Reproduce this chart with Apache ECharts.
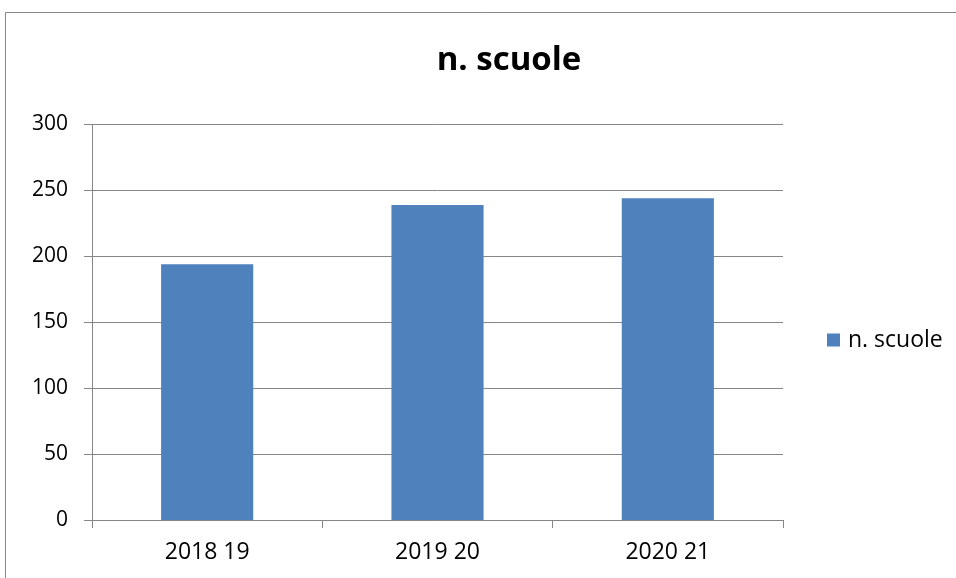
<!DOCTYPE html>
<html>
<head>
<meta charset="utf-8">
<script src="https://cdn.jsdelivr.net/npm/echarts@6/dist/echarts.min.js"></script>
<style>html,body{margin:0;padding:0;background:#fff;}#c{width:956px;height:578px;}</style>
</head>
<body>
<div id="c"></div>
<script>
var categories = ['2018 19', '2019 20', '2020 21'];
var values = [194, 239, 244];
var seriesName = 'n. scuole';
var titleText = 'n. scuole';

var font = 'Open Sans';
var chart = echarts.init(document.getElementById('c'));
chart.setOption({
  backgroundColor: '#fff',
  animation: false,
  graphic: [{
    type: 'rect', silent: true,
    shape: { x: 5.5, y: 12.5, width: 2000, height: 2000 },
    style: { fill: 'none', stroke: '#878787', lineWidth: 1 }
  }],
  title: {
    text: titleText, left: 509, top: 44, textAlign: 'center', padding: 0,
    textStyle: { fontFamily: font, fontWeight: 'bold', fontSize: 33, color: '#000' }
  },
  legend: {
    data: [seriesName], left: 827, top: 326, orient: 'vertical', padding: 0,
    itemWidth: 13, itemHeight: 13, icon: 'rect',
    textStyle: { fontFamily: font, fontSize: 23, color: '#000', lineHeight: 28, padding: [0, 0, 0, 3] }
  },
  grid: { left: 92, right: 173, top: 124.5, bottom: 58 },
  xAxis: {
    type: 'category', data: categories,
    axisLine: { lineStyle: { color: '#868686', width: 1 } },
    axisTick: { show: true, length: 8, lineStyle: { color: '#868686' } },
    axisLabel: { color: '#000', fontFamily: font, fontSize: 23, margin: 21 }
  },
  yAxis: {
    type: 'value', min: 0, max: 300, interval: 50,
    axisLine: { show: true, lineStyle: { color: '#868686', width: 1 } },
    axisTick: { show: true, length: 8, lineStyle: { color: '#868686' } },
    splitLine: { lineStyle: { color: '#868686', width: 1 } },
    axisLabel: { color: '#000', fontFamily: font, fontSize: 21, margin: 24 }
  },
  series: [{
    name: seriesName, type: 'bar', data: values, barWidth: '40%',
    itemStyle: { color: '#4F81BD' }
  }]
});
</script>
</body>
</html>
